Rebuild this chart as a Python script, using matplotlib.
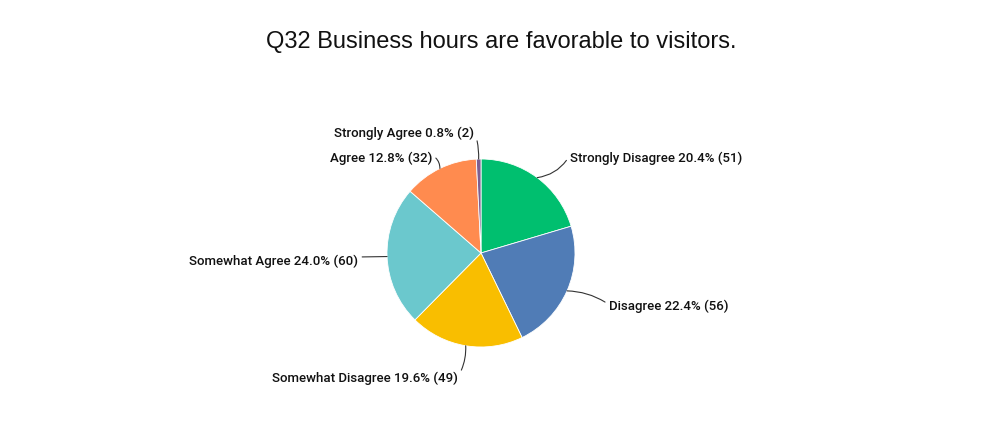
import numpy as np
import matplotlib.pyplot as plt

# Q32 responses
categories = ['Strongly Disagree', 'Disagree', 'Somewhat Disagree',
              'Somewhat Agree', 'Agree', 'Strongly Agree']
counts = [51, 56, 49, 60, 32, 2]
colors = ['#00BF6F', '#507CB6', '#F9BE00', '#6BC8CD', '#FF8B4F', '#7D5E90']

total = sum(counts)

fig = plt.figure(figsize=(10, 4.3), dpi=100)
ax = fig.add_axes([0, 0, 1, 1])

cx, cy, r = 481, 177, 94
wedges, _ = ax.pie(counts, colors=colors, startangle=90, counterclock=False,
                   center=(cx, cy), radius=r, frame=True,
                   wedgeprops=dict(linewidth=0.6, edgecolor='white'))
ax.set_xlim(0, 1000)
ax.set_ylim(0, 430)
ax.set_aspect('equal')
ax.axis('off')

# label placement: text anchor, alignment, relpos of connector, curvature
label_pos = {
    'Strongly Disagree': ((570, 272), 'left', (0, 0.75), -0.25),
    'Disagree': ((609, 124), 'left', (0, 0.6), 0.15),
    'Somewhat Disagree': ((458, 52), 'right', (1, 0.6), 0.15),
    'Somewhat Agree': ((358, 169), 'right', (1, 0.8), 0.0),
    'Agree': ((432, 272), 'right', (1, 0.7), -0.3),
    'Strongly Agree': ((474, 297), 'right', (1, 0.7), -0.1),
}

for w, cat, n in zip(wedges, categories, counts):
    ang = np.deg2rad((w.theta1 + w.theta2) / 2)
    px, py = cx + r * np.cos(ang), cy + r * np.sin(ang)
    (tx, ty), ha, rp, rad = label_pos[cat]
    ax.annotate(f'{cat} {n / total * 100:.1f}% ({n})', xy=(px, py), xytext=(tx, ty),
                ha=ha, va='center', fontsize=9.5, fontweight='medium',
                family='Roboto', color='#111111',
                arrowprops=dict(arrowstyle='-', color='#333333', lw=0.8,
                                connectionstyle=f'arc3,rad={rad}',
                                relpos=rp, shrinkA=1, shrinkB=0))

fig.text(0.501, 0.902, 'Q32 Business hours are favorable to visitors.',
         ha='center', va='center', fontsize=17, family='Liberation Sans', color='#111111')

fig.savefig('out.png', dpi=100, facecolor='white')
